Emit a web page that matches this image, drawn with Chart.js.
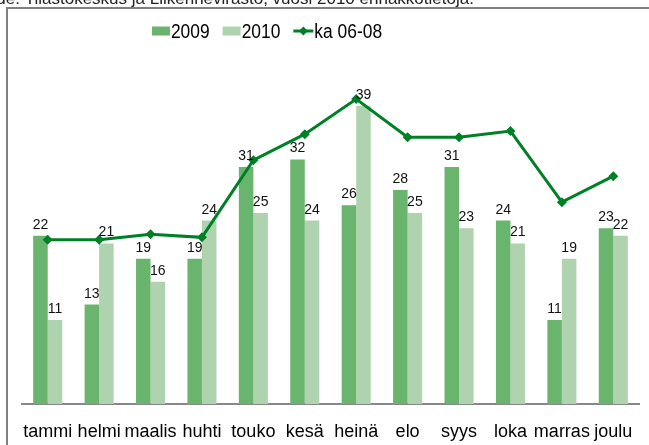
<!DOCTYPE html>
<html><head><meta charset="utf-8">
<script src="https://cdn.jsdelivr.net/npm/chart.js@4/dist/chart.umd.min.js"></script>
<style>html,body{margin:0;padding:0;background:#fff;overflow:hidden}#wrap{position:relative;width:649px;height:445px}canvas{display:block}</style>
</head><body><div id="wrap"><canvas id="c" width="649" height="445"></canvas></div>
<script>
const categories = ['tammi','helmi','maalis','huhti','touko','kesä','heinä','elo','syys','loka','marras','joulu'];
const values2009 = [22,13,19,19,31,32,26,28,31,24,11,23];
const values2010 = [11,21,16,24,25,24,39,25,23,21,19,22];
const avg0608 = [21.5,21.5,22.2,21.8,31.9,35.3,39.9,34.9,34.9,35.7,26.4,29.8];
const seriesNames = ['2009','2010','ka 06-08'];
const sourceText = 'Lähde: Tilastokeskus ja Liikennevirasto, vuosi 2010 ennakkotietoja.';

const FONT = "'Liberation Sans', Arial, sans-serif";
const C2009 = '#6ab56e', C2010 = '#afd3af', CLINE = '#008026';

const framePlugin = {
  id: 'frame',
  beforeDraw(chart) {
    const ctx = chart.ctx;
    ctx.save();
    ctx.fillStyle = '#fff';
    ctx.fillRect(0, 0, chart.width, chart.height);
    ctx.fillStyle = '#222';
    ctx.font = '17px ' + FONT;
    ctx.textBaseline = 'alphabetic';
    ctx.textAlign = 'left';
    ctx.fillText(sourceText, -32, 4);
    ctx.strokeStyle = '#808080';
    ctx.lineWidth = 2;
    ctx.strokeRect(7, 8, 700, 500);
    ctx.restore();
  }
};

const labelPlugin = {
  id: 'barLabels',
  afterDatasetsDraw(chart) {
    const ctx = chart.ctx;
    ctx.save();
    ctx.font = '14px ' + FONT;
    ctx.fillStyle = '#111';
    ctx.textAlign = 'center';
    ctx.textBaseline = 'alphabetic';
    chart.data.datasets.forEach((ds, i) => {
      if (ds.type !== 'bar') return;
      const meta = chart.getDatasetMeta(i);
      meta.data.forEach((el, j) => {
        ctx.fillText(String(ds.data[j]), el.x, el.y - 7);
      });
    });
    ctx.restore();
  }
};

const legendPlugin = {
  id: 'customLegend',
  afterDraw(chart) {
    const ctx = chart.ctx;
    ctx.save();
    ctx.font = '20px ' + FONT;
    ctx.textBaseline = 'middle';
    ctx.textAlign = 'left';
    const sx = 0.87;
    const cy = 31;
    const items = chart.data.datasets.map(ds => ({ds, sym: ds.type === 'line' ? 20 : 18, tw: ctx.measureText(ds.label).width * sx}));
    const gap = 1, between = 13;
    let total = 0;
    items.forEach((it, k) => { total += it.sym + gap + it.tw + (k < items.length - 1 ? between : 0); });
    let x = 267 - total / 2;
    items.forEach(it => {
      const ds = it.ds;
      if (ds.type === 'line') {
        ctx.strokeStyle = ds.borderColor;
        ctx.lineWidth = 3;
        ctx.beginPath(); ctx.moveTo(x, cy); ctx.lineTo(x + it.sym, cy); ctx.stroke();
        ctx.fillStyle = ds.borderColor;
        const mx = x + it.sym / 2, r = 4.5;
        ctx.beginPath(); ctx.moveTo(mx, cy - r); ctx.lineTo(mx + r, cy); ctx.lineTo(mx, cy + r); ctx.lineTo(mx - r, cy); ctx.closePath(); ctx.fill();
      } else {
        ctx.fillStyle = ds.backgroundColor;
        ctx.fillRect(x, cy - 4.5, it.sym, 9);
      }
      x += it.sym + gap;
      ctx.fillStyle = '#000';
      ctx.save();
      ctx.translate(x, cy + 1);
      ctx.scale(sx, 1);
      ctx.fillText(ds.label, 0, 0);
      ctx.restore();
      x += it.tw + between;
    });
    ctx.restore();
  }
};

new Chart(document.getElementById('c'), {
  type: 'bar',
  data: {
    labels: categories,
    datasets: [
      {type: 'bar', label: seriesNames[0], data: values2009, backgroundColor: C2009, order: 1,
       categoryPercentage: 0.565, barPercentage: 1},
      {type: 'bar', label: seriesNames[1], data: values2010, backgroundColor: C2010, order: 1,
       categoryPercentage: 0.565, barPercentage: 1},
      {type: 'line', label: seriesNames[2], data: avg0608, borderColor: CLINE, backgroundColor: CLINE,
       borderWidth: 3, pointStyle: 'rectRot', pointRadius: 5, pointBackgroundColor: CLINE,
       pointBorderColor: CLINE, pointBorderWidth: 0, tension: 0, order: 0}
    ]
  },
  options: {
    responsive: false,
    animation: false,
    devicePixelRatio: 1,
    layout: {padding: {top: 60, left: 22, right: 10, bottom: 0}},
    plugins: {legend: {display: false}, tooltip: {enabled: false}, title: {display: false}},
    scales: {
      x: {
        grid: {display: false},
        border: {display: true, color: '#888', width: 2},
        ticks: {color: '#000', font: {family: FONT, size: 18}, padding: 9, maxRotation: 0, autoSkip: false},
        afterFit(scale) { scale.height = 41; }
      },
      y: {display: false, min: 0, max: 45}
    }
  },
  plugins: [framePlugin, labelPlugin, legendPlugin]
});
</script>
</body></html>
